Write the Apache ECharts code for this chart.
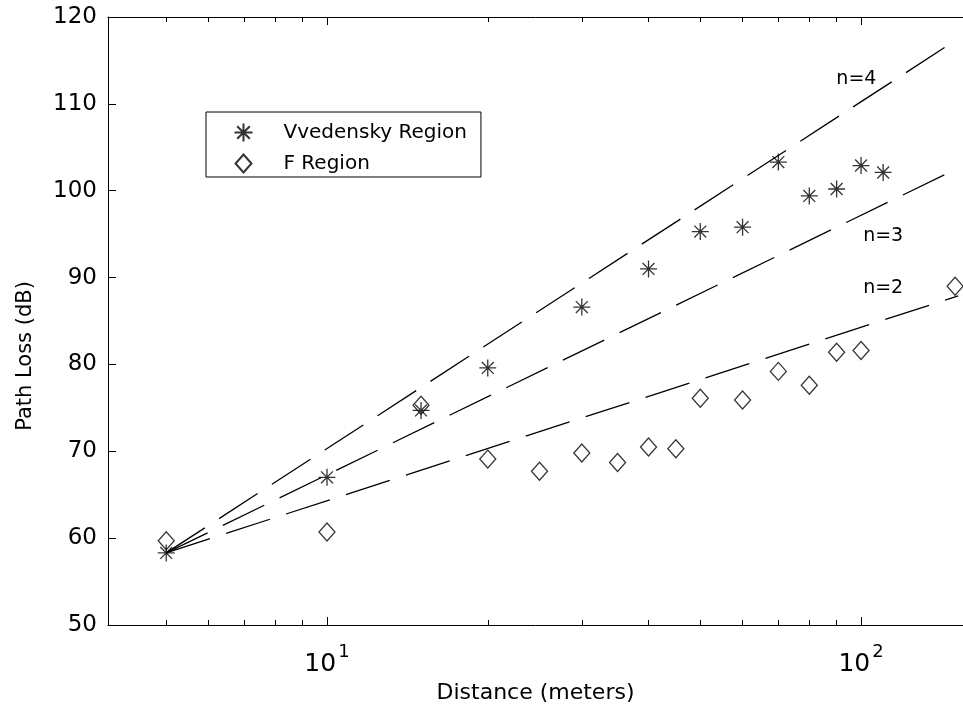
<!DOCTYPE html>
<html>
<head>
<meta charset="utf-8">
<script src="https://cdn.jsdelivr.net/npm/echarts@6/dist/echarts.min.js"></script>
<style>
  html, body { margin: 0; padding: 0; background: #fff; }
  #chart { width: 963px; height: 709px; }
</style>
</head>
<body>
<div id="chart"></div>
<script>
// Measured path loss versus distance for two regions
const vvedDist = [5, 10, 15, 20, 30, 40, 50, 60, 70, 80, 90, 100, 110];
const vvedLoss = [58.3, 67.0, 74.7, 79.6, 86.6, 91.0, 95.3, 95.8, 103.3, 99.4, 100.2, 102.9, 102.1];
const fDist = [5, 10, 15, 20, 25, 30, 35, 40, 45, 50, 60, 70, 80, 90, 100, 150];
const fLoss = [59.7, 60.7, 75.3, 69.1, 67.7, 69.8, 68.7, 70.5, 70.3, 76.1, 75.9, 79.2, 77.6, 81.4, 81.6, 89.0];

// Reference path-loss exponent lines, given by their end points
const modelDist = [5, 152];
const modelN4 = [58.3, 117.5];
const modelN3 = [58.3, 102.6];
const modelN2 = [58.3, 87.9];
const modelNames = ['n=4', 'n=3', 'n=2'];

// Axis ticks
const xMinorTicks = [5, 6, 7, 8, 9, 10, 20, 30, 40, 50, 60, 70, 80, 90, 100];
const xMajorTicks = [10, 100];
const xMajorExponents = ['1', '2'];
const yMin = 50, yMax = 120, yStep = 10;

const FONT = 'DejaVu Sans';
const X_MIN = 3.89, X_MAX = 155.2;

const zip = (xs, ys) => xs.map((x, i) => [x, ys[i]]);

const starPath = 'path://M0,-8L0,8M-8,0L8,0M-5.6,-5.6L5.6,5.6M-5.6,5.6L5.6,-5.6';
const diamondPath = 'path://M0,-9L8,0L0,9L-8,0Z';

function baseXAxis(extra) {
  return Object.assign({
    type: 'log',
    logBase: 10,
    min: X_MIN,
    max: X_MAX,
    axisLine: { show: true, lineStyle: { color: '#000', width: 1 } },
    splitLine: { show: false },
    axisLabel: { show: false },
    axisTick: { show: true, inside: true, length: 5, customValues: xMinorTicks, lineStyle: { color: '#000', width: 1 } }
  }, extra);
}

function modelLine(name, values, labelCoord) {
  return {
    name: name,
    type: 'line',
    data: zip(modelDist, values),
    showSymbol: false,
    symbol: 'none',
    silent: true,
    lineStyle: { color: '#000', width: 1.3, type: [46, 17] },
    markPoint: {
      symbol: 'circle',
      symbolSize: 0,
      silent: true,
      data: [{ coord: labelCoord }],
      label: {
        show: true,
        position: 'inside',
        formatter: name,
        color: '#000',
        fontFamily: FONT,
        fontSize: 19
      }
    },
    z: 1
  };
}

const chart = echarts.init(document.getElementById('chart'), null, { renderer: 'canvas' });

chart.setOption({
  animation: false,
  backgroundColor: '#fff',
  grid: { left: 108, top: 17, right: 0, bottom: 84, containLabel: false },
  legend: {
    data: ['Vvedensky Region', 'F Region'],
    orient: 'vertical',
    left: 206,
    top: 112,
    itemWidth: 70,
    itemHeight: 18,
    itemGap: 8,
    padding: [9, 14, 2, 26],
    borderColor: '#000',
    borderWidth: 1,
    backgroundColor: '#fff',
    selectedMode: false,
    symbolKeepAspect: true,
    textStyle: { fontFamily: FONT, fontSize: 20, color: '#000', lineHeight: 20 }
  },
  xAxis: [
    baseXAxis({
      position: 'bottom',
      name: 'Distance (meters)',
      nameLocation: 'middle',
      nameGap: 56,
      nameTextStyle: { fontFamily: FONT, fontSize: 22, color: '#000' },
      axisLabel: {
        show: true,
        customValues: xMajorTicks,
        margin: 18,
        formatter: function (v) {
          const i = xMajorTicks.indexOf(v);
          return '{b|10}{s|' + (i >= 0 ? xMajorExponents[i] : '') + '}';
        },
        rich: {
          b: { fontFamily: FONT, fontSize: 25, color: '#000', verticalAlign: 'bottom', lineHeight: 34 },
          s: { fontFamily: FONT, fontSize: 18, color: '#000', verticalAlign: 'top', padding: [0, 0, 0, 2] }
        }
      }
    }),
    baseXAxis({ position: 'bottom', axisLine: { show: false },
      axisTick: { show: true, inside: true, length: 8, customValues: xMajorTicks, lineStyle: { color: '#000', width: 1 } } }),
    baseXAxis({ position: 'top' }),
    baseXAxis({ position: 'top', axisLine: { show: false },
      axisTick: { show: true, inside: true, length: 8, customValues: xMajorTicks, lineStyle: { color: '#000', width: 1 } } })
  ],
  yAxis: {
    type: 'value',
    min: yMin,
    max: yMax,
    interval: yStep,
    name: 'Path Loss (dB)',
    nameLocation: 'middle',
    nameGap: 72,
    nameTextStyle: { fontFamily: FONT, fontSize: 21, color: '#000', padding: [0, 70, 0, 0] },
    axisLine: { show: true, lineStyle: { color: '#000', width: 1 } },
    axisTick: { show: true, inside: true, length: 8, lineStyle: { color: '#000' } },
    splitLine: { show: false },
    axisLabel: { fontFamily: FONT, fontSize: 23, color: '#000', margin: 11 }
  },
  series: [
    modelLine(modelNames[0], modelN4, [98, 112.9]),
    modelLine(modelNames[1], modelN3, [110, 94.8]),
    modelLine(modelNames[2], modelN2, [110, 88.8]),
    {
      name: 'Vvedensky Region',
      type: 'scatter',
      data: zip(vvedDist, vvedLoss),
      symbol: starPath,
      symbolSize: 17,
      itemStyle: { color: 'none', borderColor: '#000', borderWidth: 1.3 },
      z: 3
    },
    {
      name: 'F Region',
      type: 'scatter',
      data: zip(fDist, fLoss),
      symbol: diamondPath,
      symbolSize: [16, 18],
      itemStyle: { color: 'none', borderColor: '#000', borderWidth: 1.3 },
      z: 3
    }
  ]
});
</script>
</body>
</html>
